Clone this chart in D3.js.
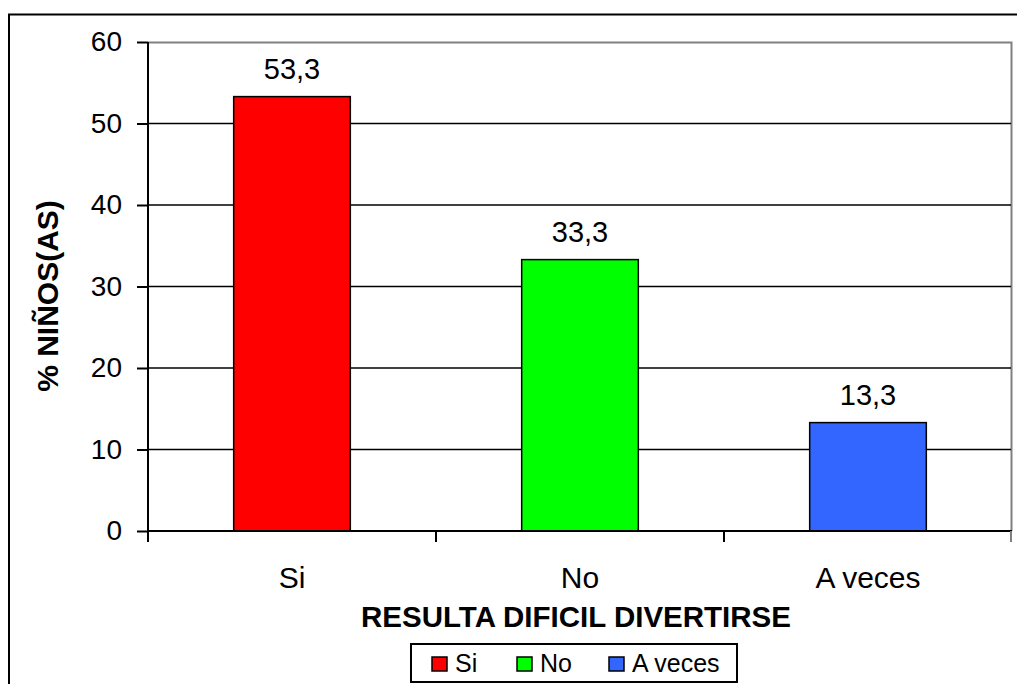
<!DOCTYPE html>
<html>
<head>
<meta charset="utf-8">
<script src="https://cdn.jsdelivr.net/npm/d3@7"></script>
<style>
  body { margin: 0; background: #fff; }
  text { font-family: "Liberation Sans", Arial, sans-serif; }
</style>
</head>
<body>
<div id="chart"></div>
<script>
var categories = ["Si", "No", "A veces"];
var values = [53.3, 33.3, 13.3];
var colors = ["#ff0000", "#00ff00", "#3366ff"];
var yTicks = [0, 10, 20, 30, 40, 50, 60];

var W = 1017, H = 684;
var margin = {top: 42, right: 5, bottom: 153, left: 148},
    width = W - margin.left - margin.right,
    height = H - margin.top - margin.bottom;

var svg = d3.select("#chart").append("svg")
    .attr("width", W)
    .attr("height", H);

// outer frame
svg.append("rect")
    .attr("x", 9).attr("y", 14.5)
    .attr("width", W + 10).attr("height", H)
    .attr("fill", "none").attr("stroke", "#000").attr("stroke-width", 2);

var g = svg.append("g")
    .attr("transform", "translate(" + margin.left + "," + margin.top + ")");

var x = d3.scaleBand().domain(categories).range([0, width]).paddingInner(0).paddingOuter(0);
var y = d3.scaleLinear().domain([0, 60]).range([height, 0]);

// plot border (gray top/right)
g.append("path")
    .attr("d", "M0,0.5H" + (width - 0.5) + "V" + height)
    .attr("fill", "none").attr("stroke", "#808080").attr("stroke-width", 2);

// gridlines
g.selectAll(".grid").data(yTicks.filter(function(d){ return d > 0 && d < 60; }))
  .enter().append("line")
    .attr("x1", 0).attr("x2", width - 1)
    .attr("y1", function(d){ return y(d); }).attr("y2", function(d){ return y(d); })
    .attr("stroke", "#000").attr("stroke-width", 1.5);

// bars
var bw = x.bandwidth() * 0.405;
g.selectAll(".bar").data(values).enter().append("rect")
    .attr("x", function(d, i){ return x(categories[i]) + x.bandwidth()/2 - bw/2; })
    .attr("width", bw)
    .attr("y", function(d){ return y(d); })
    .attr("height", function(d){ return height - y(d); })
    .attr("fill", function(d, i){ return colors[i]; })
    .attr("stroke", "#000").attr("stroke-width", 1.5);

// value labels
g.selectAll(".val").data(values).enter().append("text")
    .attr("x", function(d, i){ return x(categories[i]) + x.bandwidth()/2; })
    .attr("y", function(d){ return y(d) - 18; })
    .attr("text-anchor", "middle")
    .style("font-size", "29px")
    .text(function(d){ return d3.format(".1f")(d).replace(".", ","); });

// y axis
var yAxis = g.append("g")
    .call(d3.axisLeft(y).tickValues(yTicks).tickSize(11).tickPadding(15).tickFormat(d3.format("d")));
yAxis.select(".domain").attr("stroke", "#000").attr("stroke-width", 2)
    .attr("d", "M0,0V" + (height + 11));
yAxis.selectAll(".tick line").attr("stroke", "#000").attr("stroke-width", 2);
yAxis.selectAll(".tick text").style("font-size", "28px").attr("fill", "#000")
    .style("font-family", "'Liberation Sans', Arial, sans-serif");

// x axis
var xAxis = g.append("g").attr("transform", "translate(0," + height + ")");
xAxis.append("line").attr("x1", 0).attr("x2", width).attr("stroke", "#000").attr("stroke-width", 2);
var edges = d3.range(categories.length + 1).map(function(i){ return i * x.step(); });
xAxis.selectAll(".xt").data(edges).enter().append("line")
    .attr("x1", function(d){ return Math.min(d, width - 1); })
    .attr("x2", function(d){ return Math.min(d, width - 1); })
    .attr("y1", 0).attr("y2", 11)
    .attr("stroke", function(d, i){ return i === categories.length ? "#808080" : "#000"; })
    .attr("stroke-width", 2);
xAxis.selectAll(".xl").data(categories).enter().append("text")
    .attr("x", function(d){ return x(d) + x.bandwidth()/2; })
    .attr("y", 57)
    .attr("text-anchor", "middle")
    .style("font-size", "30px")
    .text(function(d){ return d; });

// axis titles
svg.append("text")
    .attr("transform", "translate(58,296)rotate(-90)")
    .attr("text-anchor", "middle")
    .style("font-size", "30px").style("font-weight", "bold")
    .text("% NIÑOS(AS)");

svg.append("text")
    .attr("x", 576).attr("y", 627)
    .attr("text-anchor", "middle")
    .style("font-size", "29.5px").style("font-weight", "bold")
    .text("RESULTA DIFICIL DIVERTIRSE");

// legend
var leg = svg.append("g").attr("transform", "translate(411,644)");
leg.append("rect").attr("width", 326).attr("height", 38)
    .attr("fill", "#fff").attr("stroke", "#000").attr("stroke-width", 2);
var legX = [21, 106, 198];
var items = leg.selectAll(".li").data(categories).enter().append("g")
    .attr("transform", function(d, i){ return "translate(" + legX[i] + ",0)"; });
items.append("rect").attr("x", 0).attr("y", 13).attr("width", 15).attr("height", 14)
    .attr("fill", function(d, i){ return colors[i]; })
    .attr("stroke", "#000").attr("stroke-width", 1.5);
items.append("text").attr("x", 23).attr("y", 28)
    .style("font-size", "25px")
    .text(function(d){ return d; });
</script>
</body>
</html>
